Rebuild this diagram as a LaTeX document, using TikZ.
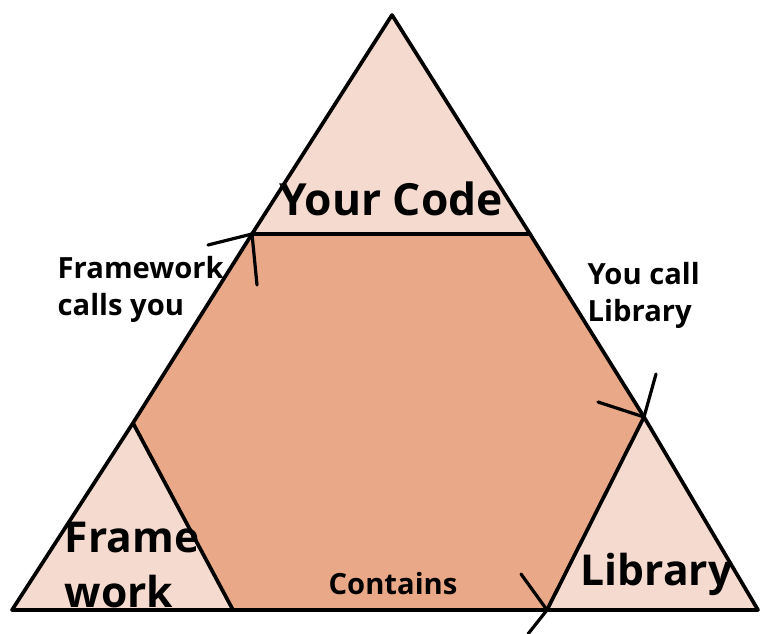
\documentclass[tikz,border=0pt]{standalone}
\usepackage{fontspec}
\setmainfont{Open Sans}
\definecolor{lightpeach}{RGB}{245,218,207}
\definecolor{salmon}{RGB}{233,168,136}
\tikzset{
  edge/.style={line width=0.037cm, black, line cap=round, line join=round},
  tick/.style={line width=0.032cm, black, line cap=round},
  biglabel/.style={font=\bfseries\fontsize{12.6}{15.6}\selectfont, inner sep=0pt},
  cornerlabel/.style={font=\bfseries\fontsize{12.1}{15.6}\selectfont, inner sep=0pt},
  smalllabel/.style={font=\bfseries\fontsize{8.3}{10.6}\selectfont, inner sep=0pt, align=left},
}
\begin{document}
\begin{tikzpicture}[x=0.01cm, y=-0.01cm]
  \useasboundingbox (0,0) rectangle (761,634);

  % corners of the outer triangle and of the inner hexagon
  \coordinate (apex) at (392,15);
  \coordinate (bl)   at (12,610);
  \coordinate (br)   at (758,610);
  \coordinate (tl)   at (252,234);
  \coordinate (tr)   at (530,234);
  \coordinate (rr)   at (644,417);
  \coordinate (rb)   at (547,610);
  \coordinate (lb)   at (233,610);
  \coordinate (ll)   at (133,423);

  % fills
  \fill[lightpeach] (apex) -- (tr) -- (rr) -- (br) -- (bl) -- (ll) -- (tl) -- cycle;
  \fill[salmon] (tl) -- (tr) -- (rr) -- (rb) -- (lb) -- (ll) -- cycle;

  % outlines
  \draw[edge] (apex) -- (tr) -- (rr) -- (br) -- (bl) -- (ll) -- (tl) -- cycle;
  \draw[edge] (tl) -- (tr);
  \draw[edge] (ll) -- (lb);
  \draw[edge] (rr) -- (rb);

  % hand-drawn arrow marks at the corners
  \coordinate (a1) at (208,245);
  \coordinate (a2) at (257,285);
  \draw[tick] (a1) -- (tl) -- (a2);
  \coordinate (b1) at (598,402);
  \coordinate (b2) at (656,374);
  \draw[tick] (b1) -- (rr) -- (b2);
  \coordinate (c1) at (521,574);
  \coordinate (c2) at (528,634);
  \draw[tick] (c1) -- (rb) -- (c2);

  % labels
  \node[biglabel, anchor=base] (yourcode) at (391,216) {Your Code};
  \node[cornerlabel, anchor=base west] (frame) at (64,552) {Frame};
  \node[cornerlabel, anchor=base west] (work) at (64,607) {work};
  \node[cornerlabel, anchor=base west] (library) at (580,585) {Library};
  \node[smalllabel, anchor=base west] (fw1) at (57,279) {Framework};
  \node[smalllabel, anchor=base west] (fw2) at (57,316) {calls you};
  \node[smalllabel, anchor=base west] (yc1) at (587,285) {You call};
  \node[smalllabel, anchor=base west] (yc2) at (587,322) {Library};
  \node[smalllabel, anchor=base] (contains) at (393,594) {Contains};
\end{tikzpicture}
\end{document}
